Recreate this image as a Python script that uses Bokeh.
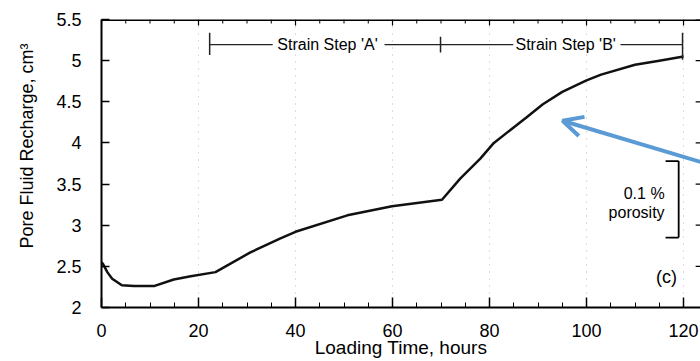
import math
from bokeh.plotting import figure
from bokeh.models import (Range1d, FixedTicker, Label, Arrow, OpenHead, Title,
                          ColumnDataSource)
from bokeh.embed import file_html
from bokeh.resources import INLINE

# ---- data ----
time_h = [0.0, 0.3, 1.2, 2.2, 4.2, 6.7, 10.8, 14.9, 18.4, 23.5, 30.7, 36.9, 40.0,
          50.7, 59.9, 70.2, 74.0, 78.1, 80.9, 87.6, 91.0, 95.0, 100.0, 103.0,
          110.0, 115.0, 120.0]
recharge = [2.55, 2.53, 2.43, 2.35, 2.27, 2.26, 2.26, 2.34, 2.38, 2.43, 2.67, 2.84, 2.92,
            3.12, 3.23, 3.31, 3.57, 3.81, 4.00, 4.31, 4.47, 4.62, 4.76, 4.83,
            4.95, 5.00, 5.05]

x_ticks = [0, 20, 40, 60, 80, 100, 120]
x_minor = [5, 10, 15, 25, 30, 35, 45, 50, 55, 65, 70, 75, 85, 90, 95, 105, 110, 115]
y_ticks = [2, 2.5, 3, 3.5, 4, 4.5, 5, 5.5]
y_tick_labels = ["2", "2.5", "3", "3.5", "4", "4.5", "5", "5.5"]

step_a_start, step_a_end, step_b_end = 22.3, 69.9, 119.8
FONT = "Liberation Sans"
BLUE = "#5B9BD5"
X0, X1, Y0, Y1 = 0, 123.5, 2, 5.5
PX_PER_Y = 288 / (Y1 - Y0)

p = figure(width=700, height=361, output_backend="svg", toolbar_location=None,
           x_range=Range1d(X0, X1), y_range=Range1d(Y0, Y1),
           min_border_left=101, min_border_right=0, min_border_top=19,
           min_border_bottom=54)
p.outline_line_color = None
p.background_fill_color = "white"
p.border_fill_color = "white"

# axes
p.xaxis.ticker = FixedTicker(ticks=x_ticks, minor_ticks=x_minor)
p.yaxis.ticker = FixedTicker(ticks=y_ticks)
p.yaxis.major_label_overrides = {t: l for t, l in zip(y_ticks, y_tick_labels)}
for ax in (p.xaxis[0], p.yaxis[0]):
    ax.axis_line_width = 2
    ax.axis_line_color = "black"
    ax.major_tick_out = 0
    ax.minor_tick_out = 0
    ax.major_tick_line_color = "black"
    ax.major_tick_line_width = 1.5
    ax.major_label_text_font = FONT
    ax.major_label_text_font_size = "18px"
    ax.major_label_text_color = "black"
p.xaxis.major_tick_in = 10
p.xaxis.minor_tick_in = 5
p.xaxis.minor_tick_line_color = "black"
p.xaxis.major_label_standoff = 16
p.xaxis.axis_label = "Loading Time, hours"
p.xaxis.axis_label_text_font = FONT
p.xaxis.axis_label_text_font_size = "19px"
p.xaxis.axis_label_text_font_style = "normal"
p.xaxis.axis_label_text_color = "black"
p.xaxis.axis_label_standoff = -3
p.yaxis.major_tick_in = 8
p.yaxis.minor_tick_in = 0
p.yaxis.minor_tick_line_color = None
p.yaxis.major_label_standoff = 20

# y-axis title, shifted up like the reference
ytitle = Title(text="Pore Fluid Recharge, cm³", align="left", offset=59,
               vertical_align="middle", standoff=31, text_font=FONT,
               text_font_size="18px", text_font_style="normal", text_color="black")
p.add_layout(ytitle, "left")

# top frame line with inward ticks, and right-edge ticks
p.segment(x0=[X0], y0=[Y1], x1=[X1], y1=[Y1], line_color="black", line_width=3)
p.segment(x0=x_ticks, y0=[Y1] * len(x_ticks), x1=x_ticks,
          y1=[Y1 - 6 / PX_PER_Y] * len(x_ticks), line_color="black", line_width=1.2)
p.segment(x0=x_minor, y0=[Y1] * len(x_minor), x1=x_minor,
          y1=[Y1 - 4 / PX_PER_Y] * len(x_minor), line_color="black", line_width=1)
p.segment(x0=[X1 - 1.0] * len(y_ticks), y0=y_ticks, x1=[X1] * len(y_ticks), y1=y_ticks,
          line_color="black", line_width=1.2)

# faint dotted grid
p.xgrid.ticker = FixedTicker(ticks=x_ticks)
p.xgrid.grid_line_color = "#777777"
p.xgrid.grid_line_alpha = 0.5
p.xgrid.grid_line_dash = "1 6"
p.ygrid.grid_line_color = None

# curve
src = ColumnDataSource(dict(t=time_h, v=recharge))
p.line("t", "v", source=src, line_color="#111111", line_width=2.5)

# strain step bars
ys = 5.195
p.segment(x0=[step_a_start, 58.35, 107.0], y0=[ys] * 3,
          x1=[35.3, 84.9, step_b_end], y1=[ys] * 3, line_color="#222222", line_width=1.3)
p.segment(x0=[step_a_start, step_a_end, step_b_end], y0=[5.07, 5.10, 5.01],
          x1=[step_a_start, step_a_end, step_b_end], y1=[5.34, 5.29, 5.34],
          line_color="#222222", line_width=1.5)
for cx, txt in [(46.6, "Strain Step 'A'"), (95.7, "Strain Step 'B'")]:
    p.add_layout(Label(x=cx, y=ys, text=txt, text_font=FONT, text_font_size="16px",
                       text_align="center", text_baseline="middle", text_color="black"))

# porosity bracket
p.segment(x0=[119.0, 116.3, 116.3], y0=[3.78, 3.78, 2.85],
          x1=[119.0, 119.0, 119.0], y1=[2.85, 3.78, 2.85], line_color="black", line_width=1.8)
p.add_layout(Label(x=116.1, y=3.38, text="0.1 %", text_font=FONT, text_font_size="16px",
                   text_align="right", text_baseline="middle", text_color="black"))
p.add_layout(Label(x=116.1, y=3.16, text="porosity", text_font=FONT, text_font_size="16px",
                   text_align="right", text_baseline="middle", text_color="black"))
p.add_layout(Label(x=116.5, y=2.37, text="(c)", text_font=FONT, text_font_size="18px",
                   text_align="center", text_baseline="middle", text_color="black"))

# blue arrow
p.add_layout(Arrow(end=OpenHead(size=20, line_width=4, line_color=BLUE),
                   x_start=126.0, y_start=3.725, x_end=95.05, y_end=4.27,
                   line_width=4, line_color=BLUE))

open("out.html", "w").write(file_html(p, INLINE))
